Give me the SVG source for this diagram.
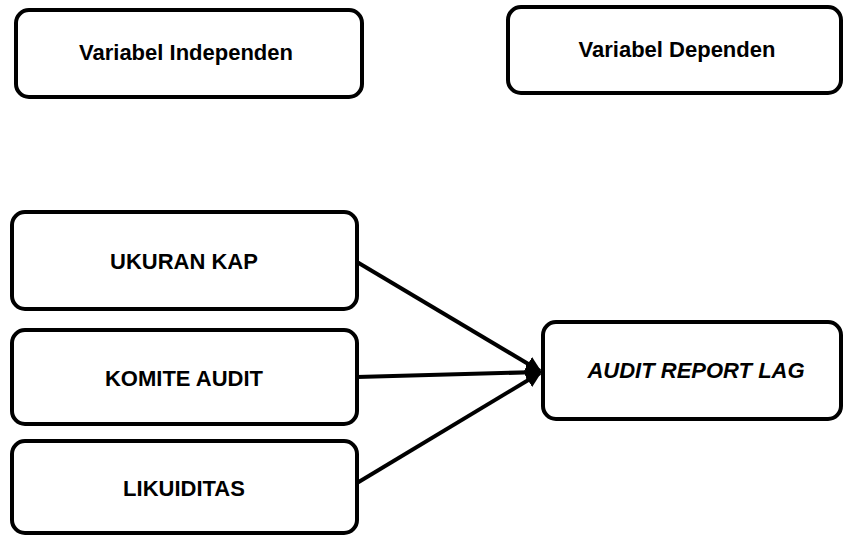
<svg xmlns="http://www.w3.org/2000/svg" width="843" height="535" viewBox="0 0 843 535">
<defs>
<style>
.box{fill:#fff;stroke:#000;stroke-width:4}
.t{font-family:"Liberation Sans",Arial,sans-serif;font-weight:bold;font-size:22px;fill:#000;text-anchor:middle}
.i{font-style:italic}
.c{stroke:#000;stroke-width:4;fill:none}
</style>
<marker id="ah" markerWidth="4" markerHeight="4" refX="3.5" refY="2" orient="auto" markerUnits="strokeWidth">
<path d="M0,0 L4,2 L0,4 z" fill="#000"/>
</marker>
</defs>
<g id="n-indep"><rect class="box" x="16" y="10" width="346" height="87" rx="13"/><text class="t" x="186" y="60">Variabel Independen</text></g>
<g id="n-dep"><rect class="box" x="508" y="7" width="333" height="86" rx="13"/><text class="t" x="677" y="57">Variabel Dependen</text></g>
<g id="n-ukuran"><rect class="box" x="12" y="212" width="345" height="97" rx="13"/><text class="t" x="184" y="269">UKURAN KAP</text></g>
<g id="n-komite"><rect class="box" x="12" y="330" width="345" height="94" rx="13"/><text class="t" x="184" y="386">KOMITE AUDIT</text></g>
<g id="n-likuid"><rect class="box" x="12" y="441" width="345" height="92" rx="13"/><text class="t" x="184" y="496">LIKUIDITAS</text></g>
<g id="n-arl"><rect class="box" x="543" y="322" width="298" height="97" rx="13"/><text class="t i" x="696" y="378">AUDIT REPORT LAG</text></g>
<g id="connectors">
<line class="c" x1="357" y1="262" x2="540" y2="371" marker-end="url(#ah)"/>
<line class="c" x1="357" y1="377" x2="540" y2="372" marker-end="url(#ah)"/>
<line class="c" x1="357" y1="483" x2="540" y2="373" marker-end="url(#ah)"/>
</g>
</svg>
